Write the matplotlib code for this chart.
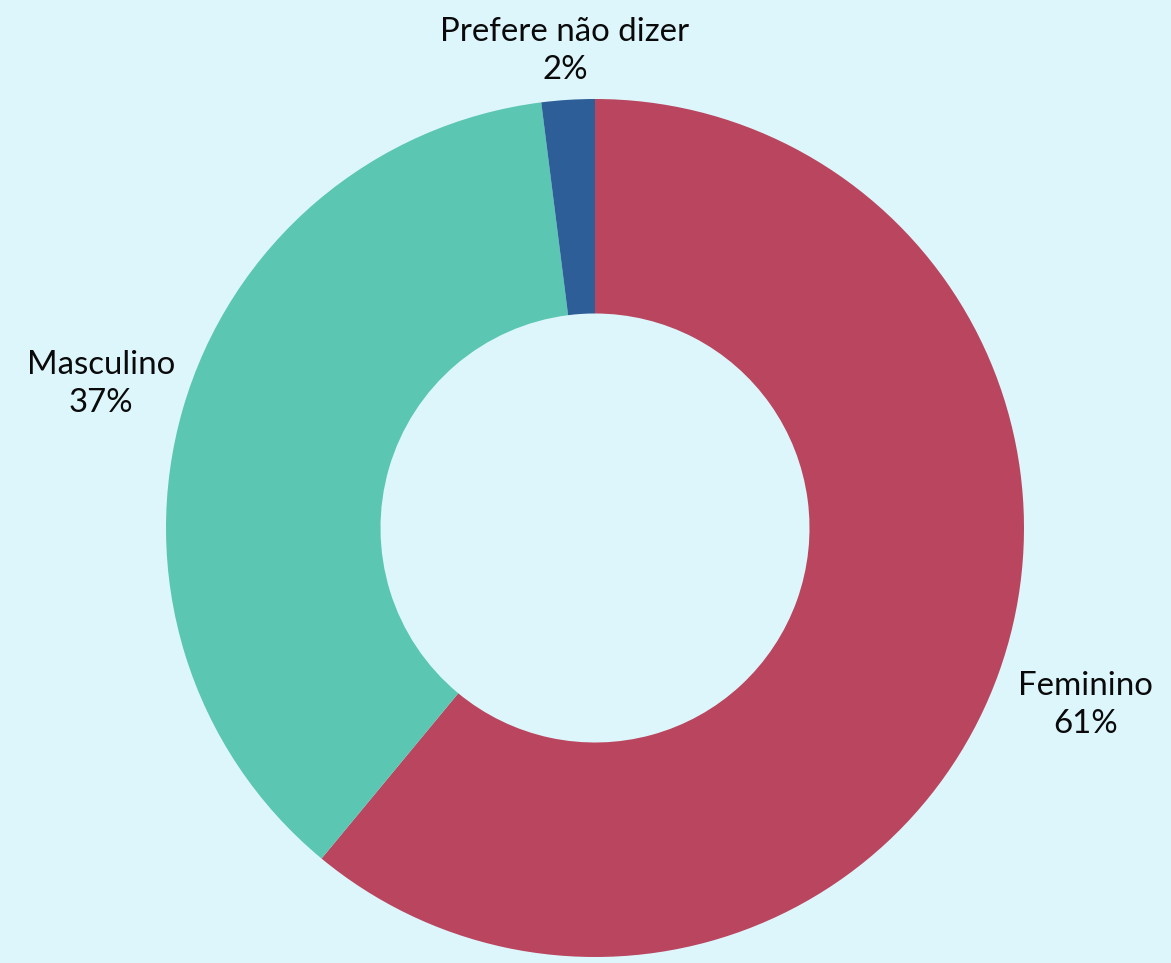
import numpy as np
import matplotlib.pyplot as plt

# dados do gráfico
categorias = ["Feminino", "Masculino", "Prefere não dizer"]
percentuais = [61, 37, 2]
cores = ["#B9465E", "#5BC6B2", "#2E5E98"]
dist_rotulo = [1.215, 1.20, 1.115]

W, H = 1171, 963
fig = plt.figure(figsize=(W / 100, H / 100), dpi=100)
fig.patch.set_facecolor("#DDF6FC")
ax = fig.add_axes([0, 0, 1, 1])
ax.set_xlim(0, W)
ax.set_ylim(0, H)
ax.set_aspect("equal")
ax.axis("off")

cx, cy, r = 595, H - 528, 429
wedges, _ = ax.pie(percentuais, colors=cores, startangle=90, counterclock=False,
                   center=(cx, cy), radius=r,
                   wedgeprops=dict(width=r * 0.5, edgecolor="none"))
ax.set_xlim(0, W)
ax.set_ylim(0, H)

for w, nome, p, d in zip(wedges, categorias, percentuais, dist_rotulo):
    ang = np.deg2rad((w.theta1 + w.theta2) / 2)
    x = cx + d * r * np.cos(ang)
    y = cy + d * r * np.sin(ang)
    ax.text(x, y, f"{nome}\n{p}%", ha="center", va="center", multialignment="center",
            fontsize=23.8, family=["Lato", "DejaVu Sans"], color="#0a0a0a", linespacing=1.33)

fig.savefig("out.png", dpi=100, facecolor=fig.get_facecolor())
